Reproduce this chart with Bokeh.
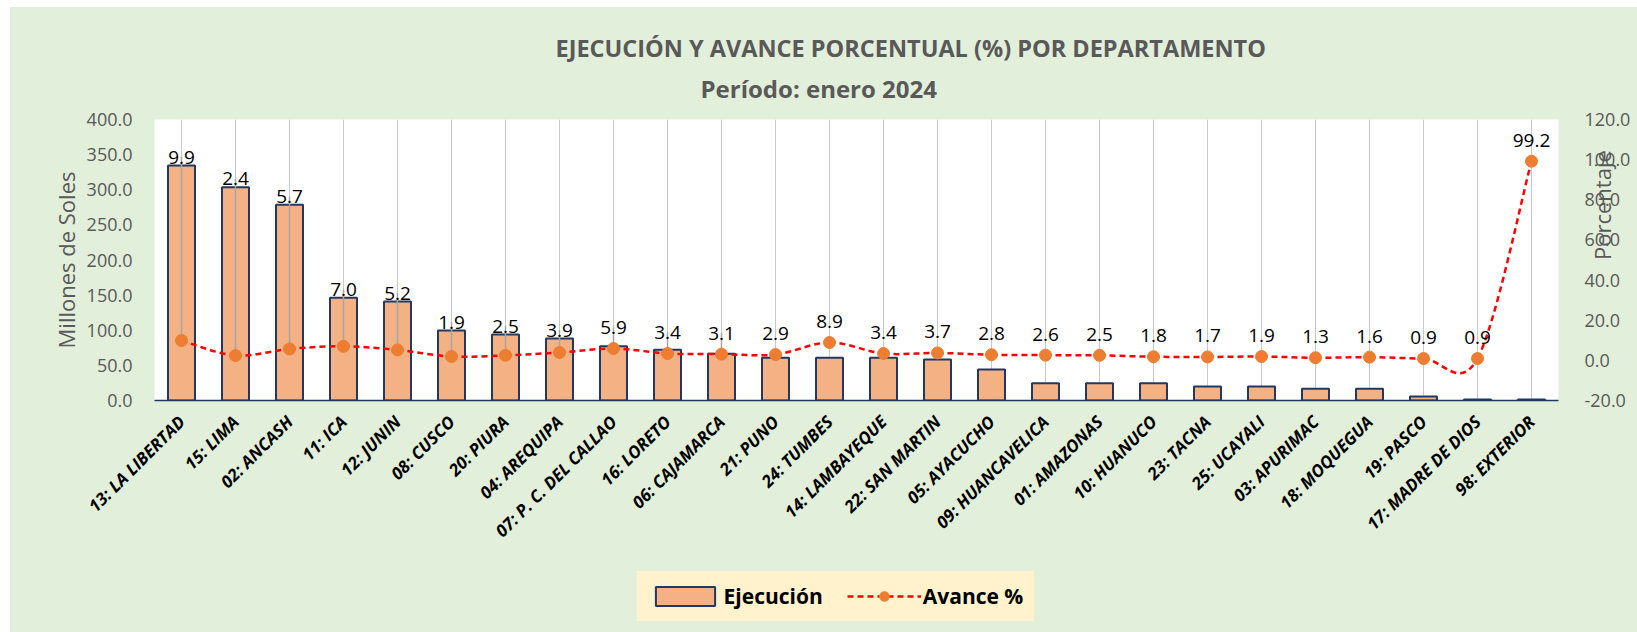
import math
import numpy as np
from bokeh.plotting import figure
from bokeh.layouts import column
from bokeh.models import (Range1d, LinearAxis, FixedTicker, PrintfTickFormatter,
                          Title, Legend, LegendItem)
from bokeh.core.properties import value
from bokeh.embed import file_html
from bokeh.resources import INLINE

# ---------------- data ----------------
departamentos = ["13: LA LIBERTAD", "15: LIMA", "02: ANCASH", "11: ICA", "12: JUNIN",
                 "08: CUSCO", "20: PIURA", "04: AREQUIPA", "07: P. C. DEL CALLAO",
                 "16: LORETO", "06: CAJAMARCA", "21: PUNO", "24: TUMBES",
                 "14: LAMBAYEQUE", "22: SAN MARTIN", "05: AYACUCHO",
                 "09: HUANCAVELICA", "01: AMAZONAS", "10: HUANUCO", "23: TACNA",
                 "25: UCAYALI", "03: APURIMAC", "18: MOQUEGUA", "19: PASCO",
                 "17: MADRE DE DIOS", "98: EXTERIOR"]
ejecucion = [334.5, 303.7, 278.5, 146.2, 140.9, 99.6, 94.0, 88.3, 77.3, 72.1,
             66.4, 60.7, 60.7, 60.7, 58.4, 44.1, 24.7, 24.7, 24.7, 19.9,
             19.9, 16.6, 16.6, 5.7, 1.5, 1.5]
avance = [9.9, 2.4, 5.7, 7.0, 5.2, 1.9, 2.5, 3.9, 5.9, 3.4, 3.1, 2.9, 8.9,
          3.4, 3.7, 2.8, 2.6, 2.5, 1.8, 1.7, 1.9, 1.3, 1.6, 0.9, 0.9, 99.2]
left_ticks = [0, 50, 100, 150, 200, 250, 300, 350, 400]
right_ticks = [-20, 0, 20, 40, 60, 80, 100, 120]

titulo = "EJECUCIÓN Y AVANCE PORCENTUAL (%) POR DEPARTAMENTO"
subtitulo = "Período:  enero 2024"

# ---------------- styling ----------------
FONT = "Open Sans"
GRAY = "#595959"
BG = "#E2EFDA"
LEG_BG = "#FFF2CC"
BAR_FILL = "#F4B183"
BAR_LINE = "#1F3864"
MARKER = "#ED7D31"
LINE = "#FF0000"

n = len(departamentos)
xs = np.arange(n, dtype=float)
ej = np.array(ejecucion, dtype=float)
av = np.array(avance, dtype=float)

lmin, lmax = left_ticks[0], left_ticks[-1]
rmin, rmax = right_ticks[0], right_ticks[-1]
to_left = (lmax - lmin) / (rmax - rmin)
marker_left = (av - rmin) * to_left
label_y = np.maximum(ej + 12, marker_left + 30)

W = 1627
p = figure(width=W, height=559, output_backend="svg", toolbar_location=None,
           title_location=None,
           x_range=Range1d(-0.5, n - 0.5), y_range=Range1d(lmin, lmax),
           min_border_left=144, min_border_right=79, min_border_top=112,
           min_border_bottom=166, border_fill_color=BG,
           background_fill_color="white", outline_line_color=None)
p.extra_y_ranges = {"pct": Range1d(rmin, rmax)}

# axes
xa = p.xaxis[0]
xa.ticker = FixedTicker(ticks=list(range(n)))
xa.major_label_overrides = {i: d for i, d in enumerate(departamentos)}
xa.major_label_orientation = math.pi / 4
xa.major_label_text_font = FONT
xa.major_label_text_font_size = "17px"
xa.major_label_text_font_style = "bold italic"
xa.major_label_text_color = "black"
xa.major_label_standoff = 12
xa.axis_line_color = BAR_LINE
xa.axis_line_width = 1.5
xa.major_tick_line_color = None
xa.minor_tick_line_color = None

ya = p.yaxis[0]
ya.ticker = FixedTicker(ticks=left_ticks)
ya.formatter = PrintfTickFormatter(format="%.1f")
ya.axis_label = "Millones de Soles"
ya.axis_label_text_font = FONT
ya.axis_label_text_font_size = "22px"
ya.axis_label_text_font_style = "normal"
ya.axis_label_text_color = GRAY
ya.axis_label_standoff = 3
ya.major_label_text_font = FONT
ya.major_label_text_font_size = "18px"
ya.major_label_text_color = GRAY
ya.major_label_standoff = 16
ya.axis_line_color = None
ya.major_tick_line_color = None
ya.minor_tick_line_color = None

ra = LinearAxis(y_range_name="pct", ticker=FixedTicker(ticks=right_ticks),
                formatter=PrintfTickFormatter(format="%.1f"))
ra.major_label_text_font = FONT
ra.major_label_text_font_size = "18px"
ra.major_label_text_color = GRAY
ra.major_label_standoff = 20
ra.axis_label = "Porcentaje"
ra.axis_label_orientation = math.pi / 2
ra.axis_label_text_font = FONT
ra.axis_label_text_font_size = "22px"
ra.axis_label_text_font_style = "normal"
ra.axis_label_text_color = GRAY
ra.axis_label_text_line_height = 0.5
ra.axis_label_standoff = -31
ra.axis_line_color = None
ra.major_tick_line_color = None
ra.minor_tick_line_color = None
p.add_layout(ra, "right")

p.xgrid.grid_line_color = "#C8C8C8"
p.xgrid.grid_line_width = 1
p.ygrid.grid_line_color = None

# bars
bars = p.vbar(x=xs, top=ej, width=0.5, bottom=0, fill_color=BAR_FILL,
              line_color=BAR_LINE, line_width=2)

# leader lines (label -> point) where the bar hides the point
mask = ej > marker_left
p.segment(x0=xs[mask], y0=label_y[mask], x1=xs[mask], y1=marker_left[mask],
          line_color="#A6A6A6", line_width=1.5)

# smoothed line (Catmull-Rom style bezier, as Excel smoothing)
P = np.column_stack([xs, av])
Pprev = np.vstack([P[0], P[:-1]])
Pnext = np.vstack([P[1:], P[-1]])
c0 = P[:-1] + (P[1:] - Pprev[:-1]) / 6.0
c1 = P[1:] - (Pnext[1:] - P[:-1]) / 6.0
p.bezier(x0=P[:-1, 0], y0=P[:-1, 1], x1=P[1:, 0], y1=P[1:, 1],
         cx0=c0[:, 0], cy0=c0[:, 1], cx1=c1[:, 0], cy1=c1[:, 1],
         y_range_name="pct", line_color=LINE, line_width=2.5, line_dash="6 4")
pts = p.scatter(x=xs, y=av, y_range_name="pct", size=12, fill_color=MARKER,
                line_color=MARKER)

# data labels (Avance %)
p.text(x=xs, y=label_y, text=[f"{v:.1f}" for v in av], text_align="center",
       text_baseline="alphabetic", text_font=value(FONT), text_font_size="19px",
       text_color="black")

# titles (inner one added first)
p.add_layout(Title(text=subtitulo, align="left", offset=546, standoff=30,
                   text_font=FONT, text_font_size="24px", text_font_style="bold",
                   text_color=GRAY), "above")
p.add_layout(Title(text=titulo, align="left", offset=401, standoff=-18,
                   text_font=FONT, text_font_size="23.5px", text_font_style="bold",
                   text_color=GRAY), "above")

# ---------------- legend strip ----------------
q = figure(width=W, height=66, output_backend="svg", toolbar_location=None,
           title_location=None, x_axis_location=None, y_axis_location=None,
           x_range=Range1d(0, 1), y_range=Range1d(0, 1),
           min_border_top=0, min_border_bottom=0,
           border_fill_color=BG, background_fill_color=BG, outline_line_color=None)
if "frame_align" in q.properties():
    p.frame_align = False
    q.frame_align = False
    q_left, q_right = 0, 0
else:
    q_left, q_right = 144, 79
q.min_border_left = q_left
q.min_border_right = q_right
q.grid.visible = False
lb = q.vbar(x=[0.5], top=[0.5], width=0.1, fill_color=BAR_FILL,
            line_color=BAR_LINE, line_width=2, visible=False)
ll = q.line(x=[0.4, 0.6], y=[0.5, 0.5], line_color=LINE, line_width=2.5,
            line_dash="6 4", visible=False)
ls = q.scatter(x=[0.5], y=[0.5], size=12, fill_color=MARKER, line_color=MARKER,
               visible=False)

leg = Legend(items=[LegendItem(label="Ejecución", renderers=[lb]),
                    LegendItem(label="Avance %", renderers=[ll, ls])],
             location=(626.6 - q_left, 11), orientation="horizontal", margin=0,
             padding=10, spacing=24, glyph_width=74, glyph_height=24,
             label_standoff=2, background_fill_color=LEG_BG,
             background_fill_alpha=1.0, border_line_color=LEG_BG,
             border_line_width=1, label_text_font=FONT,
             label_text_font_size="21px", label_text_font_style="bold",
             label_text_color="black")
q.add_layout(leg, "center")

layout = column(p, q, spacing=0,
                styles={"margin-left": "10px", "margin-top": "7px",
                        "background-color": BG})
open("out.html", "w").write(file_html(layout, INLINE))
